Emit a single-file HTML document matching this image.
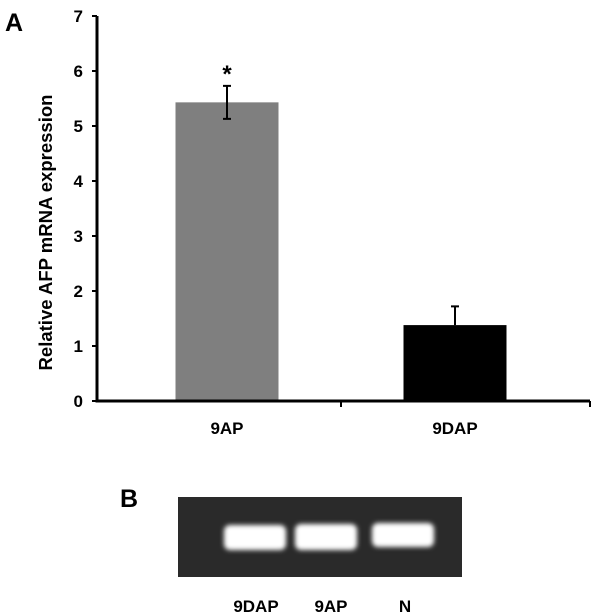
<!DOCTYPE html>
<html><head><meta charset="utf-8"><style>
body{margin:0;background:#fff;}
svg{display:block;font-family:"Liberation Sans",Arial,sans-serif;font-weight:bold;}
</style></head><body>
<svg width="616" height="615">
<defs>
<filter id="blur" x="-20%" y="-50%" width="140%" height="200%"><feGaussianBlur stdDeviation="2.5"/></filter>
</defs>
<text x="5" y="31" font-size="25">A</text>
<text x="120" y="507" font-size="25">B</text>
<g id="chart"></g>
<g>
<rect x="178" y="497" width="284" height="80" fill="#2a2a2a"/>
<rect x="224" y="525" width="62" height="25" rx="6" fill="#fff" filter="url(#blur)"/>
<rect x="295" y="524" width="62" height="26" rx="6" fill="#fff" filter="url(#blur)"/>
<rect x="372" y="523" width="62" height="24" rx="6" fill="#fff" filter="url(#blur)"/>
</g>
<text x="256" y="612" font-size="17" text-anchor="middle">9DAP</text>
<text x="331" y="612" font-size="17" text-anchor="middle">9AP</text>
<text x="405" y="612" font-size="17" text-anchor="middle">N</text>
</svg>
<script>
const categories=["9AP","9DAP"];
const values=[5.43,1.38];
const errors=[0.3,0.34];
const colors=["#7f7f7f","#000000"];
const ticks=[0,1,2,3,4,5,6,7];
const NS="http://www.w3.org/2000/svg";
const g=document.getElementById('chart');
const x0=97,x1=590,y0=401,yTop=16,ymax=7;
const y=v=>y0-(y0-yTop)*v/ymax;
const band=228;
const xc=i=>x0+16+band*(i+0.5);
function mk(t,a){const e=document.createElementNS(NS,t);for(const k in a)e.setAttribute(k,a[k]);g.appendChild(e);return e;}
categories.forEach((c,i)=>{
 const cx=xc(i),w=103;
 const r=mk('rect',{x:cx-w/2,y:y(values[i]),width:w,height:y0-y(values[i]),fill:colors[i]});
 
 
 const lo=i===0?values[i]-errors[i]:values[i];
 const e=mk('path',{d:`M${cx} ${y(lo)}V${y(values[i]+errors[i])}M${cx-4} ${y(values[i]+errors[i])}h8`+(i===0?`M${cx-4} ${y(lo)}h8`:''),stroke:'#000','stroke-width':2,fill:'none'});
 
 
 const t=mk('text',{x:cx,y:y0+33,'font-size':17,'text-anchor':'middle'});t.textContent=c;
 
 
});
const st=mk('text',{x:xc(0),y:y(values[0]+errors[0])-4,'font-size':24,'text-anchor':'middle'});st.textContent='*';


const ax=mk('path',{d:`M${x0} ${yTop}V${y0}H${x1}`,stroke:'#000','stroke-width':3,fill:'none'});


ticks.forEach(v=>{
 const tk=mk('path',{d:`M${x0-5} ${y(v)}H${x0}`,stroke:'#000','stroke-width':2});
 
 
 const t=mk('text',{x:83,y:y(v)+6,'font-size':17,'text-anchor':'end'});t.textContent=v;
 
 
});
[x0+16+band,x1].forEach(xx=>{const tk=mk('path',{d:`M${xx} ${y0}V${y0+6}`,stroke:'#000','stroke-width':2});
 
 });
const yt=mk('text',{x:0,y:0,'font-size':18.5,'text-anchor':'middle',transform:`translate(52,${(y0+yTop)/2+24}) rotate(-90)`});
yt.textContent='Relative AFP mRNA expression';


</script>
</body></html>
